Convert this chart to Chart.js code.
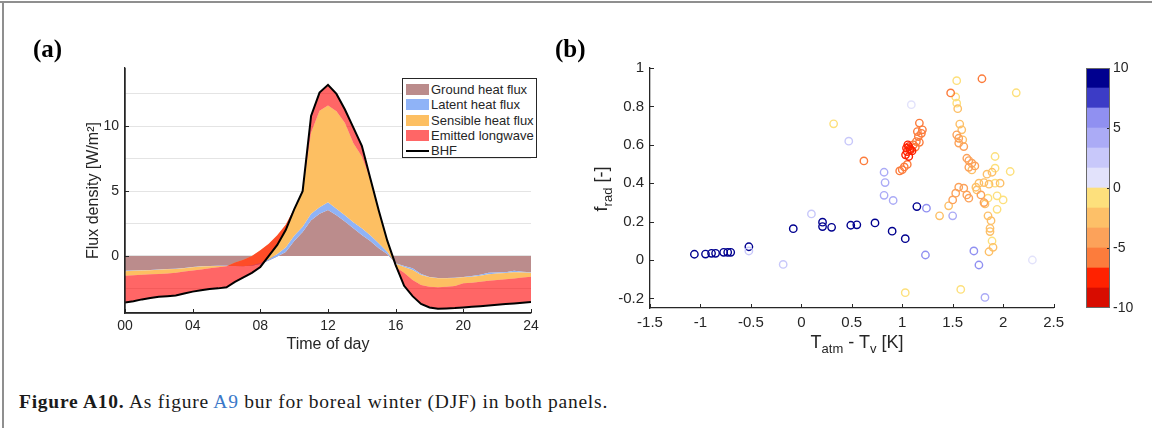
<!DOCTYPE html>
<html><head><meta charset="utf-8">
<script src="https://cdn.jsdelivr.net/npm/chart.js@4.4.1/dist/chart.umd.min.js"></script>
<style>
html,body{margin:0;padding:0;background:#fff;}
body{width:1152px;height:428px;position:relative;overflow:hidden;font-family:'Liberation Sans',Arial,sans-serif;color:#262626;}
.abs{position:absolute;}
.plabel{font-family:'Liberation Serif','Times New Roman',serif;font-weight:bold;font-size:25px;line-height:25px;color:#000;}
#legendA{left:402px;top:78px;width:135px;height:80px;border:1.3px solid #262626;background:#fff;font-size:13px;line-height:15.3px;color:#262626;padding-top:3px;box-sizing:border-box;}
#legendA .row{position:relative;height:15.3px;white-space:nowrap;}
#legendA .sw{position:absolute;left:3px;top:2px;width:23px;height:11px;}
#legendA .ln{position:absolute;left:3px;top:7px;width:23px;height:2px;background:#000;}
#legendA .tx{position:absolute;left:28px;top:0;}
.sub{font-size:13px;position:relative;top:5px;}
.rot{transform:translate(-50%,-50%) rotate(-90deg);}
</style></head><body>
<div class="abs" style="left:0;top:1px;width:1152px;height:1.5px;background:#8f8f8f"></div>
<div class="abs" style="left:2px;top:1px;width:1.5px;height:427px;background:#8f8f8f"></div>

<canvas id="chartA" class="abs" width="560" height="370" style="left:0;top:0"></canvas>
<canvas id="chartB" class="abs" width="530" height="370" style="left:540px;top:0"></canvas>
<canvas id="chartC" class="abs" width="82" height="370" style="left:1070px;top:0"></canvas>

<div class="abs plabel" style="left:33px;top:36px">(a)</div>
<div class="abs plabel" style="left:555px;top:36px">(b)</div>

<div id="legendA" class="abs"></div>

<div class="abs" style="left:757px;top:332px;width:200px;text-align:center;font-size:18px;line-height:20px;white-space:nowrap;">T<span class="sub">atm</span> - T<span class="sub">v</span> [K]</div>
<div class="abs rot" style="left:602px;top:189px;font-size:18px;line-height:20px;white-space:nowrap;">f<span class="sub">rad</span> [-]</div>

<div class="abs" style="left:19px;top:391px;font-family:'Liberation Serif','Times New Roman',serif;font-size:19.5px;line-height:22px;letter-spacing:0.75px;color:#1a1a1a;white-space:nowrap;"><b>Figure A10.</b> As figure <span style="color:#3a78c8">A9</span> bur for boreal winter (DJF) in both panels.</div>

<script>
// ---------------- Panel (a) data ----------------
const hours = [0,0.5,1,1.5,2,2.5,3,3.5,4,4.5,5,5.5,6,6.5,7,7.5,8,8.5,9,9.5,10,10.5,11,11.5,12,12.5,13,13.5,14,14.5,15,15.5,16,16.5,17,17.5,18,18.5,19,19.5,20,20.5,21,21.5,22,22.5,23,23.5,24];
const groundHeatFlux = [-1.15,-1.13,-1.10,-1.08,-1.05,-1.00,-0.98,-0.92,-0.85,-0.80,-0.78,-0.76,-0.75,-0.76,-0.78,-0.75,-0.62,-0.35,-0.05,0.30,1.15,1.85,2.75,3.25,3.55,3.15,2.65,2.14,1.62,1.16,0.60,0.15,-0.57,-0.77,-0.95,-1.40,-1.62,-1.70,-1.70,-1.68,-1.62,-1.55,-1.45,-1.30,-1.28,-1.25,-1.15,-1.22,-1.25];
const latentHeatFlux = [-0.02,-0.02,-0.02,-0.02,-0.02,-0.02,-0.02,-0.02,-0.02,-0.02,-0.02,-0.02,-0.02,-0.02,-0.02,0.03,0.07,0.09,0.20,0.35,0.40,0.40,0.50,0.50,0.60,0.50,0.50,0.46,0.52,0.44,0.38,0.18,-0.03,-0.08,-0.13,-0.07,-0.03,-0.02,-0.02,-0.02,-0.03,-0.05,-0.07,-0.12,-0.08,-0.07,-0.11,-0.06,-0.05];
const sensibleHeatFlux = [-0.35,-0.33,-0.33,-0.32,-0.33,-0.33,-0.30,-0.26,-0.25,-0.23,-0.15,-0.10,-0.03,0.28,0.50,0.72,1.00,1.21,1.45,1.75,2.10,2.75,6.25,7.45,7.45,7.51,7.11,6.10,5.54,4.30,2.52,0.87,-0.25,-0.45,-0.78,-0.77,-0.72,-0.70,-0.65,-0.62,-0.46,-0.46,-0.46,-0.50,-0.50,-0.48,-0.47,-0.38,-0.30];
const bhf = [-3.60,-3.50,-3.35,-3.25,-3.15,-3.10,-3.05,-2.90,-2.75,-2.65,-2.55,-2.50,-2.42,-2.00,-1.65,-1.30,-0.85,0.00,0.85,2.00,3.60,5.00,10.80,12.60,13.20,12.50,11.30,9.90,8.50,6.00,3.50,1.20,-0.70,-2.30,-3.10,-3.70,-3.97,-4.07,-4.05,-4.02,-3.97,-3.92,-3.87,-3.82,-3.76,-3.71,-3.66,-3.61,-3.56];
const xTicksA = [0,4,8,12,16,20,24];
const yGridA = [-2.5,0,2.5,5,7.5,10,12.5];
const yLabelsA = [0,5,10];
const seriesNamesA = ['Ground heat flux','Latent heat flux','Sensible heat flux','Emitted longwave','BHF'];

// ---------------- Panel (b) data ----------------
const dT = [-1.06,-0.95,-0.89,-0.85,-0.77,-0.73,-0.70,-0.52,-0.08,0.21,0.21,0.30,0.49,0.55,0.73,0.90,1.03,1.145,
  -0.52,0.10,-0.18,0.47,
  1.09,2.29,
  0.82,0.83,0.82,0.91,1.50,1.82,
  1.24,1.23,1.71,1.76,
  0.32,1.03,1.58,1.54,1.53,1.54,2.13,1.92,1.92,2.07,1.92,1.85,1.94,2.00,1.94,1.89,
  1.55,1.57,1.59,1.60,1.69,1.89,1.84,1.76,1.81,1.86,1.97,1.73,1.46,1.37,1.74,1.82,1.85,1.88,1.87,1.87,1.90,1.86,
  1.54,1.56,1.56,1.61,1.64,1.66,1.69,1.66,1.72,1.56,1.61,1.53,1.64,1.66,1.50,1.78,1.81,
  0.62,1.48,1.79,0.975,1.00,1.02,1.05,1.11,1.13,1.14,1.17,1.16,1.15,1.20,1.17,1.19,
  1.065,1.042,1.081,1.049,1.097,1.033,1.065,1.055,1.075];
const fRad = [0.030,0.031,0.035,0.035,0.040,0.040,0.040,0.069,0.163,0.197,0.174,0.170,0.181,0.183,0.193,0.150,0.111,0.278,
  0.047,0.240,-0.023,0.619,
  0.809,0.000,
  0.457,0.403,0.337,0.310,0.230,-0.195,
  0.270,0.026,0.047,-0.026,
  0.709,-0.170,-0.153,0.934,0.849,0.817,0.871,0.539,0.478,0.461,0.400,0.322,0.334,0.313,0.264,0.099,
  0.788,0.708,0.678,0.626,0.469,0.457,0.447,0.400,0.403,0.395,0.400,0.379,0.282,0.230,0.365,0.292,0.230,0.205,0.165,0.148,0.066,0.043,
  0.652,0.634,0.609,0.591,0.530,0.518,0.504,0.483,0.490,0.379,0.374,0.348,0.339,0.322,0.313,0.339,0.299,
  0.516,0.870,0.944,0.464,0.470,0.485,0.498,0.600,0.588,0.617,0.613,0.643,0.669,0.678,0.713,0.660,
  0.591,0.583,0.574,0.565,0.568,0.548,0.539,0.600,0.580];
const colourValue = [9,9,9,9,9,9,9,9,9,9,9,9,9,9,9,9,9,9,
  2.5,2.5,2.5,2.5,
  0.8,0.8,
  4.2,4.2,4.2,4.2,4.2,4.2,
  5.8,5.8,5.8,5.8,
  -0.8,-0.8,-0.8,-0.8,-0.8,-0.8,-0.8,-0.8,-0.8,-0.8,-0.8,-0.8,-0.8,-0.8,-0.8,-0.8,
  -2.5,-2.5,-2.5,-2.5,-2.5,-2.5,-2.5,-2.5,-2.5,-2.5,-2.5,-2.5,-2.5,-2.5,-2.5,-2.5,-2.5,-2.5,-2.5,-2.5,-2.5,-2.5,
  -4.2,-4.2,-4.2,-4.2,-4.2,-4.2,-4.2,-4.2,-4.2,-4.2,-4.2,-4.2,-4.2,-4.2,-4.2,-4.2,-4.2,
  -5.8,-5.8,-5.8,-5.8,-5.8,-5.8,-5.8,-5.8,-5.8,-5.8,-5.8,-5.8,-5.8,-5.8,-5.8,-5.8,
  -7.5,-7.5,-7.5,-7.5,-7.5,-7.5,-7.5,-7.5,-7.5];
const xTicksB = [-1.5,-1,-0.5,0,0.5,1,1.5,2,2.5];
const yTicksB = [-0.2,0,0.2,0.4,0.6,0.8,1];

// ---------------- Colour bar ----------------
const cbLimits = [-10,-8.333,-6.667,-5,-3.333,-1.667,0,1.667,3.333,5,6.667,8.333,10];
const cbColours = ['#d80c00','#ff2200','#fc7c3c','#fca25a','#fdc068','#fde07c','#e2e2fb','#c8c8fa','#ababf6','#9090f1','#3c3cc6','#00008f'];
const cbTicks = [-10,-5,0,5,10];

Chart.defaults.font.family = "'Liberation Sans', Arial, sans-serif";
Chart.defaults.color = '#262626';
const AX = '#262626';

function colourFor(v){
  let k = 0;
  while (k < cbColours.length - 1 && v >= cbLimits[k+1]) k++;
  return cbColours[k];
}

const axisPlugin = {
  id: 'axisDecor',
  afterDatasetsDraw(chart, args, o) {
    const ctx = chart.ctx, a = chart.chartArea, s = chart.scales;
    ctx.save();
    ctx.strokeStyle = AX; ctx.lineWidth = 1;
    if (o.xt) o.xt.forEach(v => { const p = Math.round(s.x.getPixelForValue(v)) + 0.5; ctx.beginPath(); ctx.moveTo(p, a.bottom); ctx.lineTo(p, a.bottom - o.len); ctx.stroke(); });
    if (o.yt) o.yt.forEach(v => { const p = Math.round(s.y.getPixelForValue(v)) + 0.5; ctx.beginPath();
      if (o.right) { ctx.moveTo(a.right, p); ctx.lineTo(a.right - o.len, p); } else { ctx.moveTo(a.left, p); ctx.lineTo(a.left + o.len, p); }
      ctx.stroke(); });
    if (o.axes) {
      ctx.lineWidth = 1.3;
      ctx.beginPath(); ctx.moveTo(a.left, a.top); ctx.lineTo(a.left, a.bottom); ctx.lineTo(a.right, a.bottom); ctx.stroke();
    }
    if (o.frame) { ctx.lineWidth = 1; ctx.strokeStyle = '#6a6a6a'; ctx.strokeRect(a.left + 0.5, a.top + 0.5, a.width - 1, a.height - 1); }
    ctx.restore();
  }
};

// ---------------- Chart A ----------------
const cumGL = groundHeatFlux.map((g, i) => g + latentHeatFlux[i]);
const cumGLS = cumGL.map((v, i) => v + sensibleHeatFlux[i]);
const xy = arr => hours.map((h, i) => ({x: h, y: arr[i]}));
const colA = {ground:'#bb8c8c', latent:'#8fb3f7', sensible:'#fdbf62', longwave:'rgba(255,0,0,0.6)', bhf:'#000000'};
const noLine = {borderWidth: 0, borderColor: 'rgba(0,0,0,0)', pointRadius: 0, tension: 0};

new Chart(document.getElementById('chartA'), {
  type: 'line',
  data: { datasets: [
    {label: seriesNamesA[4], data: xy(bhf), borderColor: colA.bhf, borderWidth: 2, pointRadius: 0, tension: 0, fill: false},
    Object.assign({label: seriesNamesA[3], data: xy(bhf), backgroundColor: colA.longwave, fill: 2}, noLine),
    Object.assign({label: seriesNamesA[2], data: xy(cumGLS), backgroundColor: colA.sensible, fill: 3}, noLine),
    Object.assign({label: seriesNamesA[1], data: xy(cumGL), backgroundColor: colA.latent, fill: 4}, noLine),
    Object.assign({label: seriesNamesA[0], data: xy(groundHeatFlux), backgroundColor: colA.ground, fill: 'origin'}, noLine)
  ]},
  options: {
    responsive: false, animation: false,
    layout: {padding: {left: 80, top: 68, right: 29, bottom: 12}},
    plugins: {legend: {display: false}, tooltip: {enabled: false},
      axisDecor: {xt: xTicksA, yt: yLabelsA, len: 4, axes: true}},
    scales: {
      x: {type: 'linear', min: 0, max: 24,
        afterBuildTicks: s => { s.ticks = xTicksA.map(v => ({value: v})); },
        afterFit: s => { s.height = 45; },
        ticks: {autoSkip: false, maxRotation: 0, padding: 5, color: AX, font: {size: 14},
          callback: v => String(v).padStart(2, '0')},
        grid: {display: false, drawTicks: false},
        border: {display: true, color: AX, width: 1.3},
        title: {display: true, text: 'Time of day', color: AX, font: {size: 16}, padding: {top: 4, bottom: 4}}},
      y: {type: 'linear', min: -4.4, max: 14.5,
        afterBuildTicks: s => { s.ticks = yGridA.map(v => ({value: v})); },
        afterFit: s => { s.width = 45; },
        ticks: {padding: 6, color: AX, font: {size: 14},
          callback: v => (yLabelsA.includes(v) ? String(v) : '')},
        grid: {color: '#e4e4e4', lineWidth: 1, drawTicks: false},
        border: {display: true, color: AX, width: 1.3},
        title: {display: true, text: 'Flux density [W/m²]', color: AX, font: {size: 16}, padding: {top: 4, bottom: 4}}}
    }
  },
  plugins: [axisPlugin]
});

// legend (a)
const legendItems = [
  {name: seriesNamesA[0], col: colA.ground},
  {name: seriesNamesA[1], col: colA.latent},
  {name: seriesNamesA[2], col: colA.sensible},
  {name: seriesNamesA[3], col: colA.longwave},
  {name: seriesNamesA[4], line: true}
];
document.getElementById('legendA').innerHTML = legendItems.map(it =>
  '<div class="row">' + (it.line ? '<span class="ln"></span>' : '<span class="sw" style="background:' + it.col + '"></span>') +
  '<span class="tx">' + it.name + '</span></div>').join('');

// ---------------- Chart B ----------------
new Chart(document.getElementById('chartB'), {
  type: 'scatter',
  data: { datasets: [{
    label: 'f_rad',
    data: dT.map((x, i) => ({x: x, y: fRad[i]})),
    pointRadius: 3.7, pointBorderWidth: 1.4,
    pointBackgroundColor: 'rgba(0,0,0,0)',
    pointBorderColor: colourValue.map(colourFor),
    showLine: false
  }]},
  options: {
    responsive: false, animation: false,
    layout: {padding: {left: 65, top: 68, right: 7, bottom: 17}},
    plugins: {legend: {display: false}, tooltip: {enabled: false},
      axisDecor: {xt: xTicksB, yt: yTicksB, len: 4}},
    scales: {
      x: {type: 'linear', min: -1.5, max: 2.5,
        afterBuildTicks: s => { s.ticks = xTicksB.map(v => ({value: v})); },
        afterFit: s => { s.height = 45; },
        ticks: {autoSkip: false, maxRotation: 0, padding: 6, color: AX, font: {size: 15},
          callback: v => String(Number(v.toFixed(1)))},
        grid: {display: false, drawTicks: false},
        border: {display: true, color: AX, width: 1.3}},
      y: {type: 'linear', min: -0.25, max: 1,
        afterBuildTicks: s => { s.ticks = yTicksB.map(v => ({value: v})); },
        afterFit: s => { s.width = 45; },
        ticks: {padding: 6, color: AX, font: {size: 15},
          callback: v => String(Number(v.toFixed(1)))},
        grid: {display: false, drawTicks: false},
        border: {display: true, color: AX, width: 1.3}}
    }
  },
  plugins: [axisPlugin]
});

// ---------------- Chart C (colour bar) ----------------
new Chart(document.getElementById('chartC'), {
  type: 'bar',
  data: { labels: [''], datasets: cbColours.map((c, i) => ({
    data: [[cbLimits[i], cbLimits[i+1]]], backgroundColor: c, borderWidth: 0,
    barPercentage: 1, categoryPercentage: 1, grouped: false }))},
  options: {
    responsive: false, animation: false,
    layout: {padding: {left: 16, top: 68, right: 2, bottom: 62}},
    plugins: {legend: {display: false}, tooltip: {enabled: false},
      axisDecor: {yt: cbTicks.slice(1, -1), len: 3, right: true, frame: true}},
    scales: {
      x: {display: false},
      y: {position: 'right', min: -10, max: 10,
        afterBuildTicks: s => { s.ticks = cbTicks.map(v => ({value: v})); },
        afterFit: s => { s.width = 40; },
        ticks: {padding: 3, color: AX, font: {size: 14}},
        grid: {display: false, drawTicks: false},
        border: {display: false}}
    }
  },
  plugins: [axisPlugin]
});
</script>
</body></html>
